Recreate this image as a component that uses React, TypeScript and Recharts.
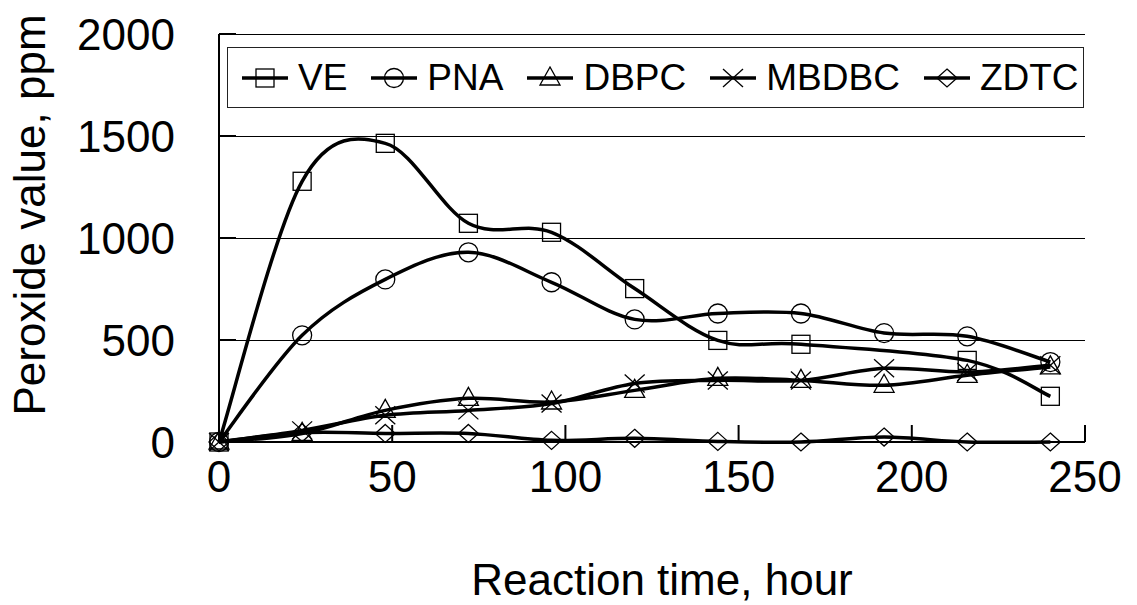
import React from 'react'
import { LineChart, Line, XAxis, YAxis, CartesianGrid } from 'recharts'

document.body.style.margin = '0'

const hours = [0, 24, 48, 72, 96, 120, 144, 168, 192, 216, 240]
const ve = [0, 1278, 1464, 1072, 1028, 752, 498, 479, null, 400, 224]
const pna = [0, 523, 797, 930, 783, 601, 630, 630, 534, 518, 392]
const dbpc = [0, 42, 155, 214, 196, 253, 312, 302, 278, 327, 368]
const mbdbc = [0, 57, 131, 155, 189, 287, 302, 302, 361, 343, 376]
const zdtc = [0, 45, 42, 42, 8, 18, 3, 0, 24, 0, 0]

const xTicks = [0, 50, 100, 150, 200, 250]
const yTicks = [0, 500, 1000, 1500, 2000]

const series = [
  { key: 'VE', shape: 'square' },
  { key: 'PNA', shape: 'circle' },
  { key: 'DBPC', shape: 'triangle' },
  { key: 'MBDBC', shape: 'cross' },
  { key: 'ZDTC', shape: 'diamond' },
]

const data = hours.map((h, i) => ({
  hour: h,
  VE: ve[i],
  PNA: pna[i],
  DBPC: dbpc[i],
  MBDBC: mbdbc[i],
  ZDTC: zdtc[i],
}))

const FONT = '"Liberation Sans", Arial, sans-serif'

// smoothed line like the spreadsheet one (bezier through every point)
function smoothCurve(context: any) {
  let pts: number[][] = []
  return {
    areaStart() {},
    areaEnd() {},
    lineStart() {
      pts = []
    },
    point(x: number, y: number) {
      pts.push([+x, +y])
    },
    lineEnd() {
      const n = pts.length
      if (!n) return
      context.moveTo(pts[0][0], pts[0][1])
      const t = 1 / 6
      for (let i = 0; i < n - 1; i++) {
        const p0 = pts[Math.max(i - 1, 0)]
        const p1 = pts[i]
        const p2 = pts[i + 1]
        const p3 = pts[Math.min(i + 2, n - 1)]
        context.bezierCurveTo(
          p1[0] + (p2[0] - p0[0]) * t,
          p1[1] + (p2[1] - p0[1]) * t,
          p2[0] - (p3[0] - p1[0]) * t,
          p2[1] - (p3[1] - p1[1]) * t,
          p2[0],
          p2[1]
        )
      }
    },
  }
}

function Marker({ shape, cx, cy }: { shape: string; cx: number; cy: number }) {
  const s = { fill: 'none', stroke: '#000', strokeWidth: 1.3 }
  if (shape === 'square') return <rect x={cx - 9} y={cy - 9} width={18} height={18} {...s} />
  if (shape === 'circle') return <circle cx={cx} cy={cy} r={9.5} {...s} />
  if (shape === 'triangle')
    return <polygon points={`${cx},${cy - 11} ${cx - 10},${cy + 7} ${cx + 10},${cy + 7}`} {...s} />
  if (shape === 'cross')
    return (
      <g {...s}>
        <line x1={cx - 10} y1={cy - 9} x2={cx + 10} y2={cy + 9} />
        <line x1={cx - 10} y1={cy + 9} x2={cx + 10} y2={cy - 9} />
      </g>
    )
  return <polygon points={`${cx},${cy - 9} ${cx + 10},${cy} ${cx},${cy + 9} ${cx - 10},${cy}`} {...s} />
}

const dotFor = (shape: string) => (props: any) => {
  const { cx, cy, index, value } = props
  if (value == null || cx == null || cy == null || isNaN(cy)) return <g key={`${shape}-${index}`} />
  return (
    <g key={`${shape}-${index}`}>
      <Marker shape={shape} cx={cx} cy={cy} />
    </g>
  )
}

const XTick = (props: any) => {
  const { x, y, payload } = props
  return (
    <g>
      <line x1={x} y1={y} x2={x} y2={y - 17} stroke="#000" strokeWidth={2} />
      <text x={x} y={y + 50} textAnchor="middle" fontSize={44} fontFamily={FONT} fill="#000">
        {payload.value}
      </text>
    </g>
  )
}

const YTick = (props: any) => {
  const { x, y, payload } = props
  return (
    <g>
      {payload.value !== 0 && <line x1={x} y1={y} x2={x + 17} y2={y} stroke="#000" strokeWidth={2} />}
      <text x={x - 44} y={y + 16} textAnchor="end" fontSize={44} fontFamily={FONT} fill="#000">
        {payload.value}
      </text>
    </g>
  )
}

// legend box drawn over the plot, like the original
const LegendBox = () => (
  <div
    style={{
      position: 'absolute',
      left: 227,
      top: 47,
      width: 857,
      height: 61,
      border: '1.5px solid #222',
      display: 'flex',
      alignItems: 'center',
      paddingLeft: 14,
      boxSizing: 'border-box',
      fontFamily: FONT,
      fontSize: 37,
      color: '#000',
      background: '#fff',
    }}
  >
    {series.map((s) => (
      <div key={s.key} style={{ display: 'flex', alignItems: 'center', marginRight: 24 }}>
        <svg width={46} height={24} style={{ marginRight: 10 }}>
          <line x1={0} y1={12} x2={46} y2={12} stroke="#000" strokeWidth={3.5} />
          <Marker shape={s.shape} cx={23} cy={12} />
        </svg>
        <span>{s.key}</span>
      </div>
    ))}
  </div>
)

export default function App() {
  return (
    <div style={{ position: 'relative', width: 1137, height: 605, background: '#fff' }}>
      <LineChart width={1137} height={605} data={data} margin={{ top: 34, right: 52, bottom: 0, left: 0 }}>
        <CartesianGrid horizontal vertical={false} stroke="#000" strokeWidth={1} shapeRendering="crispEdges" />
        <XAxis
          dataKey="hour"
          type="number"
          domain={[0, 250]}
          ticks={xTicks}
          height={163}
          tickSize={0}
          tickMargin={0}
          tickLine={false}
          axisLine={{ stroke: '#000', strokeWidth: 2 }}
          tick={<XTick />}
          interval={0}
          label={{
            content: () => (
              <text x={662} y={595} textAnchor="middle" fontSize={44} fontFamily={FONT} fill="#000">
                Reaction time, hour
              </text>
            ),
          }}
        />
        <YAxis
          type="number"
          domain={[0, 2000]}
          ticks={yTicks}
          width={219}
          tickSize={0}
          tickMargin={0}
          tickLine={false}
          axisLine={{ stroke: '#000', strokeWidth: 2 }}
          tick={<YTick />}
          interval={0}
          label={{
            content: () => (
              <text
                x={45}
                y={215}
                transform="rotate(-90, 45, 215)"
                textAnchor="middle"
                fontSize={44}
                fontFamily={FONT}
                fill="#000"
              >
                Peroxide value, ppm
              </text>
            ),
          }}
        />
        {series.map((s) => (
          <Line
            key={s.key}
            dataKey={s.key}
            name={s.key}
            type={smoothCurve as any}
            stroke="#000"
            strokeWidth={3.5}
            dot={dotFor(s.shape)}
            activeDot={false}
            connectNulls
            isAnimationActive={false}
          />
        ))}
      </LineChart>
      <LegendBox />
    </div>
  )
}
